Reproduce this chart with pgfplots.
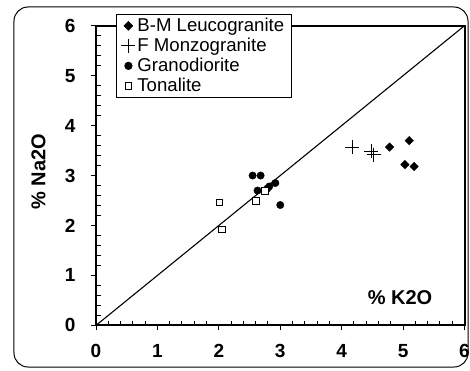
\documentclass[border=0pt]{standalone}
\usepackage{fontspec}
\setmainfont{Liberation Sans}
\usepackage{pgfplots}
\pgfplotsset{compat=1.18}
\begin{document}
\begin{tikzpicture}
\path[use as bounding box] (-96pt,-44.6pt) rectangle (374pt,325.4pt);
\draw[line width=1pt, rounded corners=14pt] (-82pt,-41.6pt) rectangle (372pt,318.4pt);
\begin{axis}[
  at={(0pt,0pt)}, anchor=south west,
  scale only axis, width=368.5pt, height=299.7pt,
  xmin=0, xmax=6, ymin=0, ymax=6,
  xtick={0,...,6}, ytick={0,...,6},
  minor tick num=4,
  xtick pos=bottom, ytick pos=left,
  tick align=outside,
  major tick length=5pt, minor tick length=-4.5pt,
  axis line style={line width=2pt},
  every tick/.style={black, line width=1pt},
  /pgf/number format/assume math mode=true,
  ticklabel style={font=\fontsize{19}{21}\selectfont\bfseries},
  xticklabel style={yshift=-10pt},
  yticklabel style={xshift=-12pt},
  ylabel={\% Na2O},
  ylabel style={font=\fontsize{20}{22}\selectfont\bfseries, at={(axis description cs:-0.156,0.512)}, anchor=center},
  legend cell align=left,
  legend style={at={(axis description cs:0.0543,1.0457)}, anchor=north west,
    yshift=-2pt,
    draw=black, line width=0.8pt, fill=white,
    font=\fontsize{18.6}{20}\selectfont, row sep=1pt,
    inner xsep=5pt, inner ysep=2pt},
  clip=false,
]
\addplot[only marks, mark=square*, mark size=3pt, mark options={rotate=45, fill=black}] coordinates {
(4.78,3.57) (5.10,3.70) (5.03,3.22) (5.18,3.18)};
\addlegendentry{B-M Leucogranite}
\addplot[only marks, mark=+, mark size=7pt, mark options={line width=0.8pt}] coordinates {
(4.17,3.57) (4.48,3.49) (4.52,3.42)};
\addlegendentry{F Monzogranite}
\addplot[only marks, mark=*, mark size=3.7pt, mark options={fill=black}] coordinates {
(2.55,3.00) (2.68,3.00) (2.63,2.70) (2.79,2.74) (2.82,2.78) (2.92,2.85) (3.00,2.41)};
\addlegendentry{Granodiorite}
\addplot[only marks, mark=square*, mark size=3.4pt, mark options={fill=white, draw=black, line width=0.9pt}] coordinates {
(2.01,2.46) (2.05,1.92) (2.61,2.49) (2.75,2.69)};
\addlegendentry{Tonalite}
\addplot[black, line width=1.1pt, forget plot] coordinates {(0,0) (6,6)};
\node[font=\fontsize{20}{22}\selectfont\bfseries] at (axis cs:4.95,0.55) {\% K2O};
\end{axis}
\end{tikzpicture}
\end{document}
